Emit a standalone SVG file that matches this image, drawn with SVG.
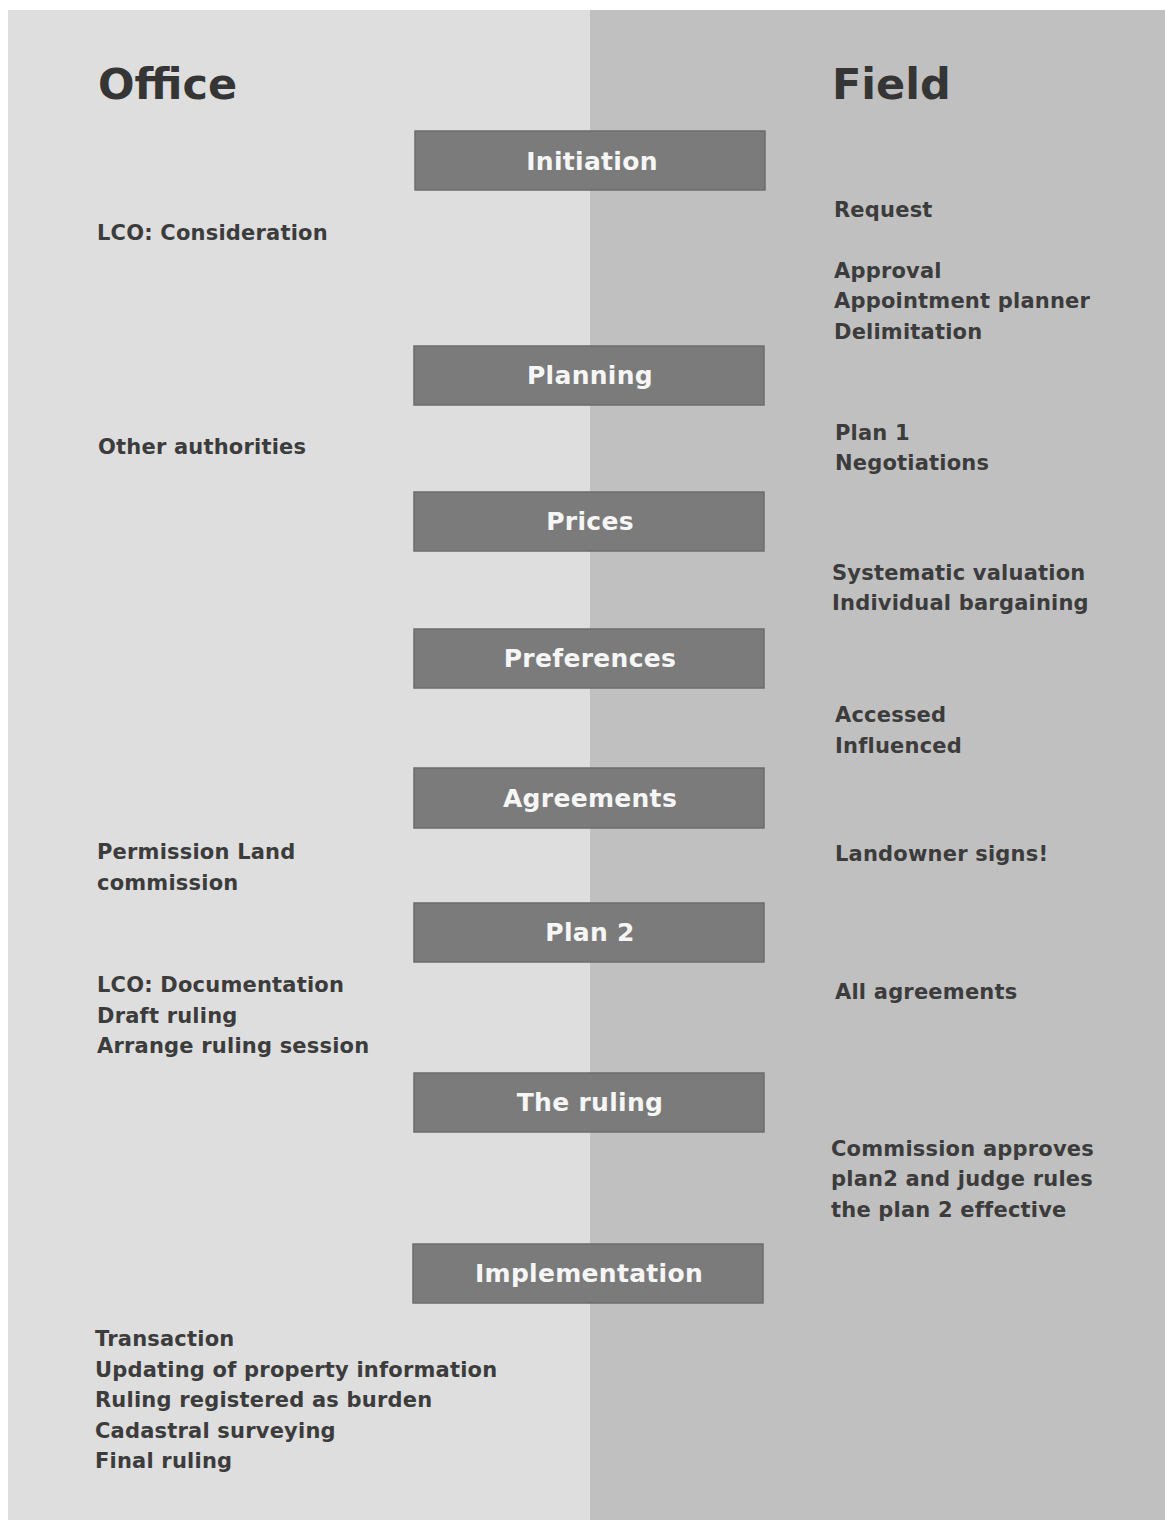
<svg xmlns="http://www.w3.org/2000/svg" width="1165" height="1520" viewBox="0 0 1165 1520">
  <style>
    .title { font-family: "DejaVu Sans", Verdana, sans-serif; font-weight: bold; font-size: 43px; fill: #353535; }
    .note { font-family: "DejaVu Sans", Verdana, sans-serif; font-weight: bold; font-size: 21px; letter-spacing: 0.2px; fill: #3c3c3c; }
    .step rect { fill: #7b7b7b; stroke: #6c6c6c; stroke-width: 1.5; }
    .step text { font-family: "DejaVu Sans", Verdana, sans-serif; font-weight: bold; font-size: 25px; letter-spacing: 0.3px; fill: #f6f6f6; text-anchor: middle; dominant-baseline: central; }
  </style>

  <!-- page and the two lanes -->
  <rect x="0" y="0" width="1165" height="1520" fill="#ffffff"/>
  <rect id="lane-office" x="8" y="10" width="582" height="1510" fill="#dedede"/>
  <rect id="lane-field" x="590" y="10" width="575" height="1510" fill="#c0c0c0"/>

  <text class="title" x="98" y="99">Office</text>
  <text class="title" x="832" y="99">Field</text>

  <!-- process steps -->
  <g id="step-initiation" class="step"><rect x="415" y="131" width="350" height="59"/><text x="592" y="161">Initiation</text></g>
  <g id="step-planning" class="step"><rect x="414" y="346" width="350" height="59"/><text x="590" y="375">Planning</text></g>
  <g id="step-prices" class="step"><rect x="414" y="492" width="350" height="59"/><text x="590" y="521">Prices</text></g>
  <g id="step-preferences" class="step"><rect x="414" y="629" width="350" height="59"/><text x="590" y="658">Preferences</text></g>
  <g id="step-agreements" class="step"><rect x="414" y="768" width="350" height="60"/><text x="590" y="798">Agreements</text></g>
  <g id="step-plan2" class="step"><rect x="414" y="903" width="350" height="59"/><text x="590" y="932">Plan 2</text></g>
  <g id="step-ruling" class="step"><rect x="414" y="1073" width="350" height="59"/><text x="590" y="1102">The ruling</text></g>
  <g id="step-implementation" class="step"><rect x="413" y="1244" width="350" height="59"/><text x="589" y="1273">Implementation</text></g>

  <!-- office notes -->
  <g id="office-notes">
    <text class="note" x="97" y="240">LCO: Consideration</text>
    <text class="note" x="98" y="454">Other authorities</text>
    <text class="note" x="97" y="859">Permission Land</text>
    <text class="note" x="97" y="890">commission</text>
    <text class="note" x="97" y="992">LCO: Documentation</text>
    <text class="note" x="97" y="1023">Draft ruling</text>
    <text class="note" x="97" y="1053">Arrange ruling session</text>
    <text class="note" x="95" y="1346">Transaction</text>
    <text class="note" x="95" y="1377">Updating of property information</text>
    <text class="note" x="95" y="1407">Ruling registered as burden</text>
    <text class="note" x="95" y="1438">Cadastral surveying</text>
    <text class="note" x="95" y="1468">Final ruling</text>
  </g>

  <!-- field notes -->
  <g id="field-notes">
    <text class="note" x="834" y="217">Request</text>
    <text class="note" x="834" y="278">Approval</text>
    <text class="note" x="834" y="308">Appointment planner</text>
    <text class="note" x="834" y="339">Delimitation</text>
    <text class="note" x="835" y="440">Plan 1</text>
    <text class="note" x="835" y="470">Negotiations</text>
    <text class="note" x="832" y="580">Systematic valuation</text>
    <text class="note" x="832" y="610">Individual bargaining</text>
    <text class="note" x="835" y="722">Accessed</text>
    <text class="note" x="835" y="753">Influenced</text>
    <text class="note" x="835" y="861">Landowner signs!</text>
    <text class="note" x="835" y="999">All agreements</text>
    <text class="note" x="831" y="1156">Commission approves</text>
    <text class="note" x="831" y="1186">plan2 and judge rules</text>
    <text class="note" x="831" y="1217">the plan 2 effective</text>
  </g>

  <!-- no connectors in this chart -->
  <g id="connectors"/>
</svg>
